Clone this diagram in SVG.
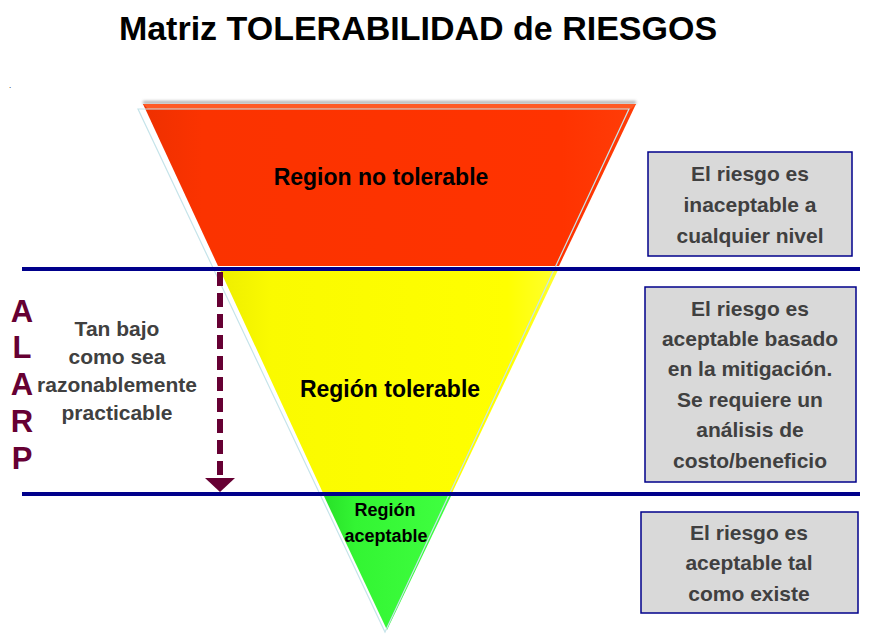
<svg xmlns="http://www.w3.org/2000/svg" width="870" height="637" viewBox="0 0 870 637">
<defs>
<style>
text{font-family:"Liberation Sans",Arial,sans-serif;font-weight:bold}
.title{font-size:34px;fill:#000}
.reg{font-size:23px;fill:#000}
.regs{font-size:18px;fill:#000}
.box{fill:#d9d9d9;stroke:#00008b;stroke-width:1.5}
.bt{font-size:21px;fill:#404040}
.alarp{font-size:31px;fill:#660033}
.tan{font-size:21px;fill:#404040}
.hline{stroke:#00008b;stroke-width:4}
</style>
<linearGradient id="gRed" x1="0" y1="0" x2="1" y2="0">
<stop offset="0" stop-color="#ee3000"/><stop offset="0.12" stop-color="#fb3300"/><stop offset="0.85" stop-color="#ff3300"/><stop offset="1" stop-color="#ff3d08"/>
</linearGradient>
<linearGradient id="gYel" x1="0" y1="0" x2="1" y2="0">
<stop offset="0" stop-color="#eeee00"/><stop offset="0.15" stop-color="#fafa00"/><stop offset="0.85" stop-color="#ffff00"/><stop offset="1" stop-color="#ffff30"/>
</linearGradient>
<linearGradient id="gGrn" x1="0" y1="0" x2="1" y2="0">
<stop offset="0" stop-color="#28e028"/><stop offset="0.25" stop-color="#33f533"/><stop offset="1" stop-color="#40ff40"/>
</linearGradient>
<filter id="blur" x="-10%" y="-200%" width="120%" height="500%"><feGaussianBlur stdDeviation="1.5"/></filter>
<marker id="arrow" markerWidth="14" markerHeight="30" refX="0" refY="15" orient="auto" markerUnits="userSpaceOnUse" viewBox="0 0 14 30">
<polygon points="0,0 14,15 0,30" fill="#660033"/>
</marker>
</defs>
<rect width="870" height="637" fill="#fff"/>
<text class="title" x="418" y="40" text-anchor="middle">Matriz TOLERABILIDAD de RIESGOS</text>
<text x="9" y="88" style="font-size:8px;font-weight:normal" fill="#000">.</text>

<g id="region-no-tolerable">
<rect x="143" y="101" width="493" height="3" fill="#aaa" filter="url(#blur)"/>
<polygon points="143,104 636,104 559,266 218,266" fill="url(#gRed)"/>
<polygon points="143,104 636,104 631,109 148,109" fill="#ff5a25"/>
<text class="reg" x="381" y="185" text-anchor="middle">Region no tolerable</text>
</g>
<g id="region-tolerable">
<polygon points="220,270 558,270 452,493 323,493" fill="url(#gYel)"/>
<text class="reg" x="390" y="397" text-anchor="middle">Región tolerable</text>
</g>
<g id="region-aceptable">
<polygon points="323,494 452,494 387,630" fill="url(#gGrn)"/>
<text class="regs" x="385" y="516" text-anchor="middle">Región</text>
<text class="regs" x="386" y="542" text-anchor="middle">aceptable</text>
</g>
<polygon points="138,109 629,109 385,632" fill="none" stroke="#c6e4ea" stroke-width="1.2"/>

<g id="connectors">
<line class="hline" x1="22" y1="269" x2="860" y2="269"/>
<line class="hline" x1="22" y1="494" x2="860" y2="494"/>
<line x1="220" y1="272" x2="220" y2="478" stroke="#660033" stroke-width="6" stroke-dasharray="14 7" marker-end="url(#arrow)"/>
</g>

<g id="alarp">
<text class="alarp" x="22" y="322" text-anchor="middle">A</text>
<text class="alarp" x="22" y="358" text-anchor="middle">L</text>
<text class="alarp" x="22" y="395" text-anchor="middle">A</text>
<text class="alarp" x="22" y="432" text-anchor="middle">R</text>
<text class="alarp" x="22" y="469" text-anchor="middle">P</text>
</g>
<g id="alarp-desc">
<text class="tan" x="117" y="336" text-anchor="middle">Tan bajo</text>
<text class="tan" x="117" y="364" text-anchor="middle">como sea</text>
<text class="tan" x="117" y="392" text-anchor="middle">razonablemente</text>
<text class="tan" x="117" y="420" text-anchor="middle">practicable</text>
</g>

<g id="box1">
<rect class="box" x="648" y="152" width="204" height="104"/>
<text class="bt" x="750" y="181" text-anchor="middle">El riesgo es</text>
<text class="bt" x="750" y="212" text-anchor="middle">inaceptable a</text>
<text class="bt" x="750" y="243" text-anchor="middle">cualquier nivel</text>
</g>
<g id="box2">
<rect class="box" x="645" y="287" width="211" height="195"/>
<text class="bt" x="750" y="316" text-anchor="middle">El riesgo es</text>
<text class="bt" x="750" y="346" text-anchor="middle">aceptable basado</text>
<text class="bt" x="750" y="376" text-anchor="middle">en la mitigación.</text>
<text class="bt" x="750" y="407" text-anchor="middle">Se requiere un</text>
<text class="bt" x="750" y="437" text-anchor="middle">análisis de</text>
<text class="bt" x="750" y="468" text-anchor="middle">costo/beneficio</text>
</g>
<g id="box3">
<rect class="box" x="641" y="512" width="217" height="101"/>
<text class="bt" x="749" y="540" text-anchor="middle">El riesgo es</text>
<text class="bt" x="749" y="570" text-anchor="middle">aceptable tal</text>
<text class="bt" x="749" y="601" text-anchor="middle">como existe</text>
</g>
</svg>
